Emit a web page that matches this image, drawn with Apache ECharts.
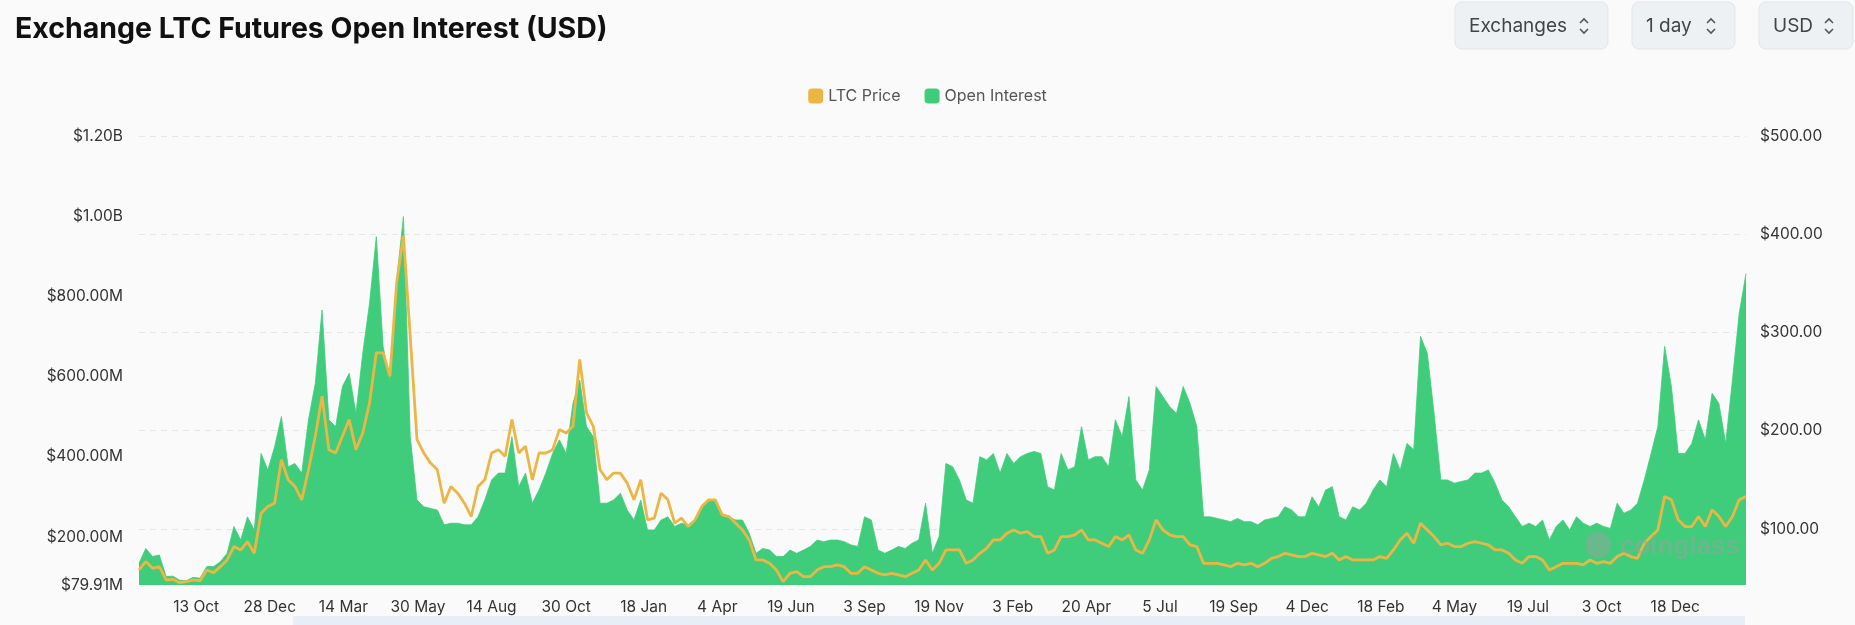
<!DOCTYPE html>
<html>
<head>
<meta charset="utf-8">
<script src="https://cdn.jsdelivr.net/npm/echarts@6/dist/echarts.min.js"></script>
<style>
  html, body { margin: 0; padding: 0; background: #fafafa; }
  #chart { width: 1855px; height: 625px; }
</style>
</head>
<body>
<div id="chart"></div>
<script>
// weekly samples, first one on 15 Aug 2020
var startDate = '2020-08-15'
var stepDays = 7

// open interest, millions USD
var openInterest = [
  134, 171, 151, 155, 101, 102, 92, 91, 99, 97, 126, 126, 138, 159, 226, 192, 250, 217, 408, 367,
  425, 500, 375, 383, 359, 492, 583, 766, 492, 475, 575, 608, 508, 658, 783, 949, 675, 591, 841, 999,
  450, 292, 275, 271, 267, 230, 234, 234, 230, 230, 250, 292, 342, 359, 359, 450, 325, 359, 284, 317,
  359, 408, 442, 408, 533, 591, 475, 450, 284, 284, 292, 309, 267, 242, 292, 217, 217, 242, 250, 226,
  234, 230, 242, 275, 292, 292, 255, 250, 242, 242, 209, 159, 171, 167, 151, 151, 167, 159, 167, 176,
  192, 188, 192, 192, 188, 180, 176, 250, 242, 167, 159, 167, 176, 171, 184, 192, 284, 159, 201, 383,
  375, 342, 292, 284, 400, 392, 408, 359, 408, 383, 400, 408, 413, 408, 325, 317, 408, 367, 375, 475,
  392, 400, 400, 375, 492, 450, 550, 342, 317, 367, 575, 550, 525, 508, 575, 533, 475, 250, 250, 246,
  242, 238, 246, 238, 238, 230, 242, 246, 250, 275, 267, 250, 250, 300, 275, 317, 325, 250, 242, 275,
  267, 284, 317, 342, 325, 408, 367, 433, 417, 700, 658, 508, 342, 342, 334, 338, 342, 359, 359, 367,
  334, 292, 275, 250, 226, 234, 226, 242, 192, 226, 242, 217, 250, 234, 226, 234, 226, 221, 284, 259,
  267, 284, 342, 408, 475, 675, 575, 408, 408, 433, 492, 442, 558, 533, 433, 591, 758, 857
]

// LTC price, USD
var ltcPrice = [
  58.2, 66.7, 59.9, 61.6, 48.0, 48.7, 45.3, 46.3, 48.0, 47.3, 58.2, 55.5, 61.6, 68.4, 82.0, 78.6, 87.1, 75.2, 116, 122.8,
  126.2, 170.5, 150, 143.2, 129.6, 160.2, 194.3, 235.1, 180.7, 177.3, 194.3, 211.3, 180.7, 197.7, 228.3, 279.3, 279.3, 255.5, 350.7, 398.3,
  296.3, 190.9, 177.3, 167, 160.2, 126.2, 143.2, 136.4, 126.2, 112.6, 143.2, 150, 177.3, 180.7, 173.9, 211.3, 177.3, 184.1, 150, 177.3,
  177.3, 180.7, 201.1, 197.7, 204.5, 272.5, 218.1, 204.5, 160.2, 150, 156.8, 156.8, 146.6, 129.6, 150, 109.2, 110.9, 136.4, 129.6, 105.8,
  110.9, 102.4, 109.2, 122.8, 129.6, 129.6, 114.3, 112.6, 105.8, 99, 88.8, 68.4, 68.4, 65, 58.2, 46.3, 54.8, 56.5, 51.4, 51.4,
  58.2, 61.6, 61.6, 63.3, 61.6, 54.8, 54.8, 61.6, 58.2, 54.8, 53.1, 54.8, 53.1, 51.4, 54.8, 58.2, 68.4, 58.2, 65, 78.6,
  78.6, 78.6, 65, 68.4, 75.2, 80.3, 88.8, 88.8, 95.6, 99, 95.6, 97.3, 92.2, 92.2, 75.2, 78.6, 92.2, 92.2, 93.9, 99,
  88.8, 88.8, 85.4, 82, 92.2, 88.8, 93.9, 78.6, 75.2, 88.8, 109.2, 99, 93.9, 92.2, 92.2, 83.7, 82, 65, 65, 65,
  63.3, 61.6, 65, 63.3, 65, 61.6, 65, 70.1, 71.8, 75.2, 73.5, 71.8, 71.8, 75.2, 73.5, 71.8, 75.2, 68.4, 71.8, 68.4,
  68.4, 68.4, 68.4, 71.8, 70.1, 78.6, 88.8, 95.6, 85.4, 105.8, 99, 92.2, 83.7, 85.4, 82, 82, 85.4, 87.1, 85.4, 83.7,
  78.6, 78.6, 75.2, 68.4, 65, 71.8, 71.8, 68.4, 58.2, 61.6, 65, 65, 65, 63.3, 68.4, 65, 66.7, 65, 71.8, 75.2,
  71.8, 70.1, 85.4, 92.2, 99, 133, 129.6, 109.2, 102.4, 102.4, 112.6, 102.4, 119.4, 112.6, 102.4, 112.6, 129.6, 133
]

// x axis labels
var xTicks = ['2020-10-13', '2020-12-28', '2021-03-14', '2021-05-30', '2021-08-14', '2021-10-30', '2022-01-18',
  '2022-04-04', '2022-06-19', '2022-09-03', '2022-11-19', '2023-02-03', '2023-04-20', '2023-07-05', '2023-09-19',
  '2023-12-04', '2024-02-18', '2024-05-04', '2024-07-19', '2024-10-03', '2024-12-18']
var leftTicks = [79.91e6, 200e6, 400e6, 600e6, 800e6, 1000e6, 1200e6]
var rightTicks = [100, 200, 300, 400, 500]

var t0 = new Date(startDate + 'T00:00:00Z').getTime()
function dayAt (i) { return t0 + i * stepDays * 86400000 }
var oiData = openInterest.map(function (v, i) { return [dayAt(i), v * 1e6] })
var priceData = ltcPrice.map(function (v, i) { return [dayAt(i), v] })
var xTickTimes = xTicks.map(function (d) { return new Date(d + 'T00:00:00Z').getTime() })

function fmtUsd (v) {
  if (v >= 1e9) return '$' + (v / 1e9).toFixed(2) + 'B'
  return '$' + (v / 1e6).toFixed(2) + 'M'
}

// 右上角下拉按钮
function dropdown (x, w, label) {
  var cx = x + w - 24
  return {
    type: 'group',
    children: [
      { type: 'rect', shape: { x: x, y: 2, width: w, height: 47, r: 7 },
        style: { fill: '#eef1f4', stroke: '#e2e5e9', lineWidth: 1 } },
      { type: 'text', style: { x: x + 14, y: 26, text: label, fill: '#444', fontSize: 19,
        fontFamily: 'Inter, Noto Sans, sans-serif', verticalAlign: 'middle' } },
      { type: 'polyline', shape: { points: [[cx - 4, 23], [cx, 19], [cx + 4, 23]] },
        style: { stroke: '#555', lineWidth: 1.6, fill: null } },
      { type: 'polyline', shape: { points: [[cx - 4, 29], [cx, 33], [cx + 4, 29]] },
        style: { stroke: '#555', lineWidth: 1.6, fill: null } }
    ]
  }
}

var myChart = echarts.init(document.getElementById('chart'))
var option = {
  backgroundColor: '#fafafa',
  animation: false,
  textStyle: { fontFamily: 'Inter, Noto Sans, sans-serif' },
  title: {
    text: 'Exchange LTC Futures Open Interest (USD)',
    left: 10, top: 10,
    textStyle: { fontSize: 28.5, fontWeight: 'bold', color: '#111' }
  },
  legend: {
    top: 83, left: 'center',
    itemWidth: 15, itemHeight: 15, itemGap: 24,
    icon: 'roundRect',
    textStyle: { fontSize: 16, color: '#555' },
    data: ['LTC Price', 'Open Interest']
  },
  grid: { left: 139, right: 109, top: 136, bottom: 40 },
  xAxis: {
    type: 'time',
    min: t0,
    max: dayAt(openInterest.length - 1),
    axisLine: { show: false },
    axisTick: { show: false },
    splitLine: { show: false },
    axisLabel: {
      customValues: xTickTimes,
      formatter: '{d} {MMM}',
      fontSize: 15.5, color: '#333', margin: 14
    }
  },
  yAxis: [
    {
      type: 'value',
      min: 79.91e6, max: 1.2e9,
      position: 'left',
      splitLine: { show: false },
      axisLine: { show: false },
      axisTick: { show: false, customValues: leftTicks },
      axisLabel: { customValues: leftTicks, formatter: fmtUsd, fontSize: 15.5, color: '#333', margin: 16 }
    },
    {
      type: 'value',
      min: 42.9, max: 500,
      position: 'right',
      axisLine: { show: false },
      axisTick: { show: false, customValues: rightTicks },
      splitLine: { show: true, lineStyle: { type: [6, 5], color: '#e6e6e6' } },
      axisLabel: { customValues: rightTicks, formatter: function (v) { return '$' + v.toFixed(2) },
        fontSize: 15.5, color: '#333', margin: 14 }
    }
  ],
  series: [
    {
      name: 'LTC Price',
      type: 'line',
      yAxisIndex: 1,
      z: 3,
      symbol: 'none',
      color: '#ecb645',
      lineStyle: { width: 2.8, color: '#ecb645' },
      data: priceData
    },
    {
      name: 'Open Interest',
      type: 'line',
      yAxisIndex: 0,
      z: 2,
      symbol: 'none',
      color: '#3fcd7b',
      lineStyle: { width: 0.8, color: '#3fcd7b' },
      areaStyle: { color: '#3fcd7b', opacity: 1 },
      data: oiData
    }
  ],
  graphic: [
    dropdown(1455, 153, 'Exchanges'),
    dropdown(1632, 103, '1 day'),
    dropdown(1759, 94, 'USD'),
    { type: 'text', z: 10, style: { x: 1620, y: 547, text: 'coinglass', fill: 'rgba(160,160,160,0.5)',
      fontSize: 26, fontWeight: 'bold', verticalAlign: 'middle' } },
    { type: 'circle', z: 10, shape: { cx: 1598, cy: 545, r: 13 }, style: { fill: 'rgba(160,160,160,0.45)' } },
    { type: 'rect', shape: { x: 293, y: 616, width: 1452, height: 12 }, style: { fill: '#e8edf8' } }
  ]
}
myChart.setOption(option)
</script>
</body>
</html>
